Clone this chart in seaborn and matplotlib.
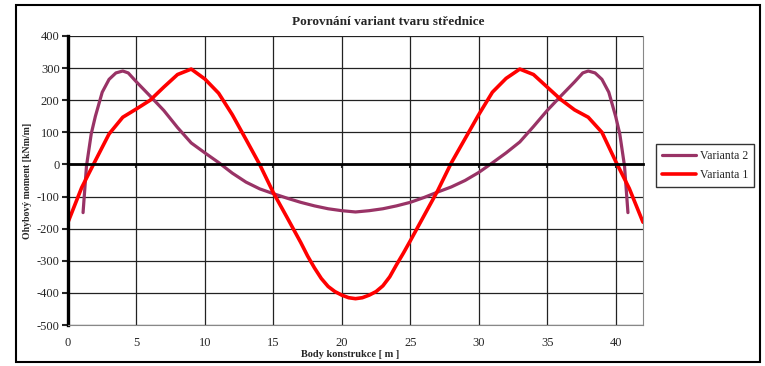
import numpy as np
import pandas as pd
import matplotlib
matplotlib.use("Agg")
import matplotlib.pyplot as plt
import seaborn as sns
from matplotlib.patches import Rectangle

# data
x_v1 = [0, 1, 2, 3, 4, 5, 6, 7, 8, 9, 10, 11, 12, 13, 14, 15, 16, 17, 17.5, 18, 18.5, 19,
        19.5, 20, 20.5, 21, 21.5, 22, 22.5, 23, 23.5, 24, 24.5, 25, 26, 27, 28, 29, 30, 31,
        32, 33, 34, 35, 36, 37, 38, 39, 40, 41, 42]
m_v1 = [-180, -72, 12, 95, 147, 173, 200, 241, 280, 297, 266, 222, 155, 78, 0, -88, -165,
        -243, -285, -322, -355, -380, -396, -407, -415, -418, -415, -407, -396, -378, -350,
        -312, -276, -238, -160, -82, 5, 80, 155, 225, 268, 297, 280, 241, 202, 170, 147,
        100, 10, -75, -180]

x_v2 = [1.1, 1.35, 1.7, 2.0, 2.5, 3.0, 3.5, 4.0, 4.4, 5, 6, 7, 8, 9, 10, 11, 12, 13, 14,
        15, 16, 17, 18, 19, 20, 21, 22, 23, 24, 25, 26, 27, 28, 29, 30, 31, 32, 33, 34,
        35, 36, 37, 37.6, 38, 38.5, 39, 39.5, 40, 40.3, 40.65, 40.9]
m_v2 = [-150, -5, 96, 150, 225, 265, 285, 291, 285, 257, 213, 168, 115, 67, 36, 6, -27,
        -55, -76, -91, -105, -118, -129, -138, -144, -148, -144, -138, -129, -118, -103,
        -86, -70, -50, -25, 5, 36, 70, 118, 168, 213, 257, 285, 291, 285, 265, 225, 150,
        96, -5, -150]

x_ticks = list(range(0, 41, 5))
y_ticks = list(range(-500, 401, 100))

sns.set_style("white")
plt.rcParams['font.family'] = ['Liberation Serif', 'DejaVu Serif']
plt.rcParams['axes.unicode_minus'] = False

fig = plt.figure(figsize=(7.65, 3.66), dpi=100)
ax = fig.add_axes([68/765, 1-325/366, 575/765, 289/366])

df2 = pd.DataFrame({'x': x_v2, 'M': m_v2})
df1 = pd.DataFrame({'x': x_v1, 'M': m_v1})
sns.lineplot(data=df2, x='x', y='M', sort=False, estimator=None, color='#993366',
             lw=2.3, label='Varianta 2', ax=ax)
sns.lineplot(data=df1, x='x', y='M', sort=False, estimator=None, color='#ff0000',
             lw=2.6, label='Varianta 1', ax=ax)

ax.set_xlim(0, 42)
ax.set_ylim(-500, 400)
ax.set_xticks(x_ticks)
ax.set_yticks(y_ticks)
ax.grid(True, color='#222222', lw=0.9)
ax.set_axisbelow(True)

# zero line carries the x ticks
ax.spines['top'].set_position(('data', 0))
ax.spines['top'].set_linewidth(2)
ax.spines['top'].set_color('black')
ax.spines['left'].set_linewidth(2.4)
ax.spines['left'].set_color('black')
ax.spines['right'].set_color('#888888')
ax.spines['bottom'].set_color('#888888')
ax.tick_params(axis='x', bottom=False, top=True, labeltop=False, labelbottom=True,
               direction='in', length=3, width=1.5, pad=9, labelsize=9)
ax.tick_params(axis='y', left=True, direction='out', length=4, width=1.5,
               labelsize=9, pad=2)

ax.set_xlabel('Body konstrukce [ m ]', fontsize=7.5, fontweight='bold', va='center')
ax.xaxis.set_label_coords(0.49, -0.102)
ax.set_ylabel('Ohybový moment [kNm/m]', fontsize=7, fontweight='bold', va='center')
ax.yaxis.set_label_coords(-0.071, 0.5)
fig.text(388/765, 1-22/366, 'Porovnání variant tvaru střednice', ha='center',
         va='center', fontsize=9.5, fontweight='bold')

leg = ax.legend(loc='upper left', bbox_to_anchor=(1.0226, 0.626), borderaxespad=0,
                frameon=True, fancybox=False, fontsize=8.5, handlelength=2.9,
                handletextpad=0.3, borderpad=0.5, labelspacing=0.6)
leg.get_frame().set_edgecolor('black')
leg.get_frame().set_linewidth(1)

fig.add_artist(Rectangle((16/765, 1-362/366), 744/765, 357/366, transform=fig.transFigure,
                         fill=False, ec='black', lw=1.5))

fig.savefig('out.png', dpi=100)
